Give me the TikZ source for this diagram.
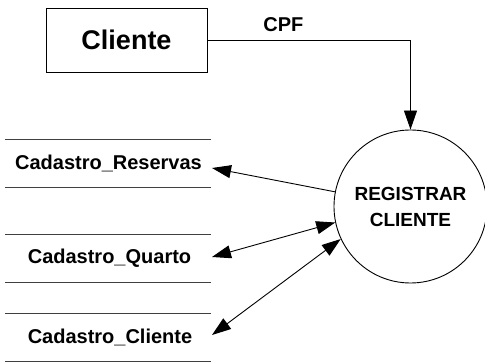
\documentclass[tikz,border=0pt]{standalone}
\usepackage{fontspec}
\setmainfont{Liberation Sans}
\usetikzlibrary{arrows.meta}
\begin{document}
\begin{tikzpicture}[x=1pt,y=-1pt,line width=0.9pt,
  lbl/.style={font=\bfseries\fontsize{20}{24}\selectfont,inner sep=0pt},
  storeline/.style={line width=0.9pt,draw=black!75},
  arr/.style={-{Triangle[length=19pt,width=13pt]}},
  darr/.style={{Triangle[length=19pt,width=13pt]}-{Triangle[length=19pt,width=13pt]}}]
\useasboundingbox[fill=white] (0,0) rectangle (485,363);
% external entity
\node[draw,minimum width=161pt,minimum height=64pt,inner sep=0pt,
  font=\bfseries\fontsize{27}{32}\selectfont] (cli) at (126.5,40) {Cliente};
% process
\node[draw,circle,minimum size=153pt,inner sep=0pt,align=center,
  font=\bfseries\fontsize{19}{26}\selectfont] (proc) at (410.5,206.5) {REGISTRAR\\CLIENTE};
% CPF flow
\draw[arr] (cli.east) -| node[pos=0.187,above=8pt,lbl] (cpf) {CPF} (proc.north);
% data stores
\draw[storeline] (5,139) -- (211,139);
\draw[storeline] (5,187) -- (211,187);
\node[lbl] (res) at (108.5,163) {Cadastro\_Reservas};
\draw[storeline] (5,234) -- (211,234);
\draw[storeline] (5,282) -- (211,282);
\node[lbl] (qua) at (109.5,258) {Cadastro\_Quarto};
\draw[storeline] (5,313) -- (211,313);
\draw[storeline] (5,361) -- (211,361);
\node[lbl] (cad) at (110,337) {Cadastro\_Cliente};
% flow ends
\coordinate (resend) at (212,168);
\coordinate (quaend) at (212,257);
\coordinate (cadend) at (212,335);
\draw[arr] (proc.169.3) -- (resend);
\draw[darr] (quaend) -- (proc.192.2);
\draw[darr] (cadend) -- (proc.205.8);
\end{tikzpicture}
\end{document}
